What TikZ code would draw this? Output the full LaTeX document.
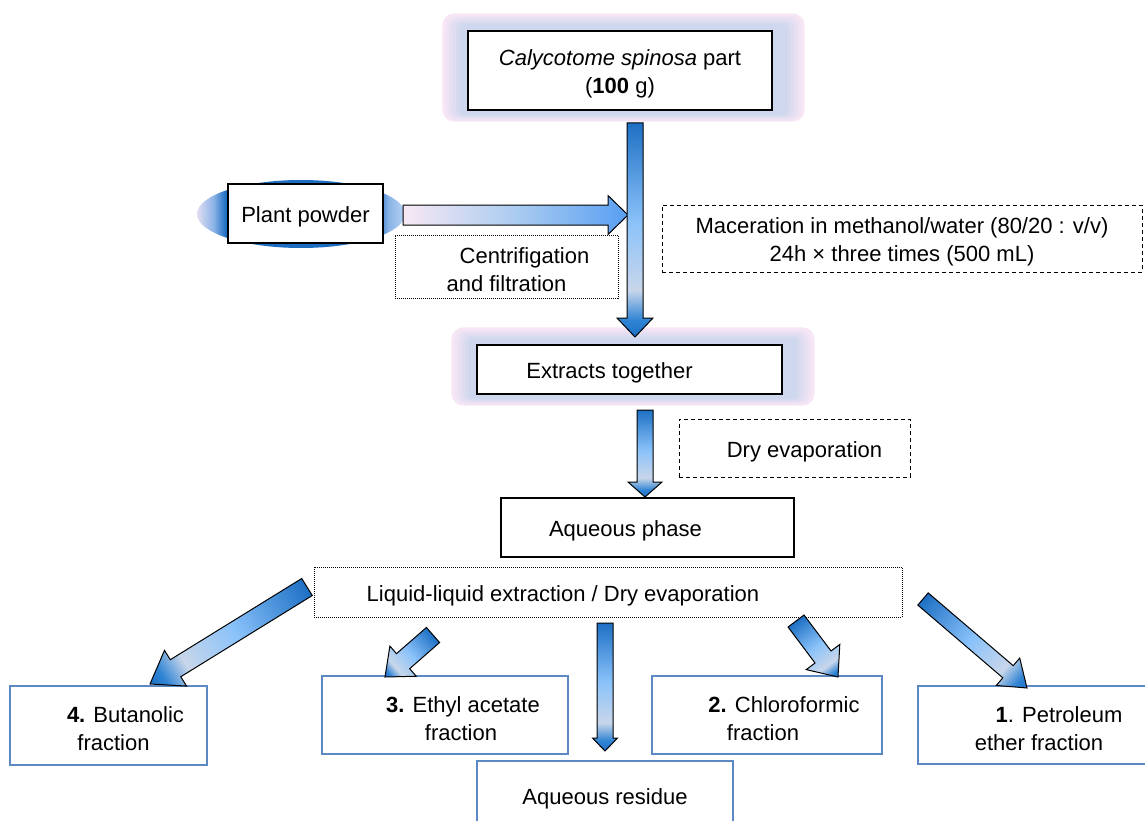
\documentclass[tikz,border=0pt]{standalone}
\usepackage{fontspec}
\setmainfont{Liberation Sans}
\usetikzlibrary{calc,backgrounds}

\definecolor{arrdark}{RGB}{30,112,196}
\definecolor{arrlight}{RGB}{138,194,250}
\definecolor{arrpale}{RGB}{200,214,234}
\definecolor{arrend}{RGB}{48,132,212}
\definecolor{powpink}{RGB}{248,232,244}
\definecolor{powmid}{RGB}{170,204,240}
\definecolor{powblue}{RGB}{88,158,242}
\definecolor{fracblue}{RGB}{92,136,196}
\definecolor{glowpink}{RGB}{247,230,245}
\definecolor{glowblue}{RGB}{206,215,238}
\definecolor{ovlpale}{RGB}{226,222,242}
\definecolor{ovlmid}{RGB}{138,179,230}
\definecolor{ovldark}{RGB}{28,108,194}
\definecolor{ovlright}{RGB}{181,211,243}

\pgfdeclarehorizontalshading{stepshade}{100bp}{color(0bp)=(arrdark); color(25bp)=(arrdark); color(48bp)=(arrlight); color(64bp)=(arrpale); color(71bp)=(arrend); color(75bp)=(arrdark); color(100bp)=(arrdark)}
\pgfdeclarehorizontalshading{powdershade}{100bp}{color(0bp)=(powpink); color(25bp)=(powpink); color(50bp)=(powmid); color(75bp)=(powblue); color(100bp)=(powblue)}
\pgfdeclarehorizontalshading{ovalshade}{100bp}{color(0bp)=(ovlpale); color(25bp)=(ovlpale); color(29bp)=(ovlmid); color(32bp)=(ovldark); color(68bp)=(ovldark); color(71bp)=(ovlmid); color(75bp)=(ovlright); color(100bp)=(ovlright)}

% strut that sets the text a little lower in its box
\newcommand\lift{\rule{0pt}{23pt}}

\tikzset{
  every node/.style={font=\fontsize{22}{28}\selectfont},
  boxtext/.style={inner sep=0pt, align=center},
  blackbox/.style={boxtext, draw=black, line width=1.3pt, fill=white},
  fracbox/.style={boxtext, draw=fracblue, line width=1.1pt, fill=white},
  dashbox/.style={boxtext, draw=black, line width=0.9pt, dash pattern=on 4pt off 3pt},
  dotbox/.style={boxtext, draw=black, line width=0.9pt, dash pattern=on 1pt off 1pt},
  fatarrow/.style={draw=black, line width=1pt, line join=miter},
}

% shaded block arrow: shading, tail, tip, half shaft, half head, head length
\newcommand\blockarrow[6]{%
  \path let \p1=(#2), \p2=(#3) in \pgfextra{%
    \pgfmathsetmacro\arrang{atan2((\y2)-(\y1),(\x2)-(\x1))}%
    \pgfmathsetmacro\arrlen{veclen((\x2)-(\x1),(\y2)-(\y1))}%
    \xdef\arrang{\arrang}\xdef\arrlen{\arrlen}%
    \xdef\arrx{\x1}\xdef\arry{\y1}};
  \shadedraw[fatarrow, shading=#1, transform canvas={shift={(\arrx,\arry)},rotate=\arrang}]
    (0pt,-#4pt) -- ({\arrlen pt-#6pt},-#4pt) -- ({\arrlen pt-#6pt},-#5pt)
    -- (\arrlen pt,0pt) -- ({\arrlen pt-#6pt},#5pt) -- ({\arrlen pt-#6pt},#4pt)
    -- (0pt,#4pt) -- cycle;
}

% soft glow round the main boxes
\newcommand\halo[1]{%
  \foreach \k/\mix in {0/0,1/20,2/40,3/60,4/80,5/100}{
    \fill[glowblue!\mix!glowpink, rounded corners=12pt-1.5pt*\k]
      ($(#1.north west)+(-25+3.5*\k,-17+2.2*\k)$) rectangle ($(#1.south east)+(32-3.5*\k,11-1.4*\k)$);
  }
}

\begin{document}
\begin{tikzpicture}[x=1pt,y=-1pt]
\useasboundingbox (0,0) rectangle (1145,821);

% Boxes
\node[blackbox, minimum width=304, minimum height=79] (calyco) at (620,70.5) {\lift{\itshape Calycotome spinosa} part\\(\textbf{100} g)};
\node[blackbox, minimum width=155, minimum height=59] (powder) at (305.5,213.5) {\lift Plant powder};
\node[dotbox, minimum width=223, minimum height=63] (centri) at (506.5,266.5) {\lift\hspace*{36pt}Centrifigation\\and filtration};
\node[dashbox, minimum width=480, minimum height=67] (macer) at (902,238.5) {\lift Maceration in methanol/water (80/20 : v/v)\\24h × three times (500 mL)};
\node[blackbox, minimum width=305, minimum height=49] (extracts) at (629.5,369.5) {\lift\hspace*{-40pt}Extracts together};
\node[dashbox, minimum width=231, minimum height=58] (dryevap) at (794.5,448) {\lift\hspace*{20pt}Dry evaporation};
\node[blackbox, minimum width=293, minimum height=59] (aqphase) at (647.5,527.5) {\lift\hspace*{-44pt}Aqueous phase};
\node[dotbox, minimum width=588, minimum height=50] (liquid) at (608,592) {\lift\hspace*{-90pt}Liquid-liquid extraction / Dry evaporation};

% Fractions
\node[fracbox, minimum width=197, minimum height=79] (butanol) at (108.5,725.5) {\lift\hspace*{34pt}\textbf{4.} Butanolic\\\hspace*{10pt}fraction};
\node[fracbox, minimum width=246, minimum height=78] (ethyl) at (445,715) {\lift\hspace*{36pt}\textbf{3.} Ethyl acetate\\\hspace*{32pt}fraction};
\node[fracbox, minimum width=230, minimum height=78] (chloro) at (767,715) {\lift\hspace*{34pt}\textbf{2.} Chloroformic\\\hspace*{-8pt}fraction};
\node[fracbox, minimum width=242, minimum height=78] (petrol) at (1039,725) {\lift\hspace*{40pt}\textbf{1}. Petroleum\\ether fraction};
\node[fracbox, minimum width=256, minimum height=69] (residue) at (605,795.5) {\lift Aqueous residue};

% Glow and oval behind
\begin{pgfonlayer}{background}
  \halo{calyco}
  \halo{extracts}
  \shade[shading=ovalshade] ($(powder)+(-4.5,0.5)$) ellipse [x radius=104pt, y radius=34pt];
\end{pgfonlayer}

% Arrow ends
\coordinate (c1) at (635,123);
\coordinate (c2) at (635,337);
\coordinate (p1) at (403,215);
\coordinate (p2) at (628,215);
\coordinate (e1) at (645,410);
\coordinate (e2) at (645,497);
\coordinate (r1) at (605,623);
\coordinate (r2) at (605,751);
\coordinate (b1) at (307,587);
\coordinate (b2) at (150,684);
\coordinate (t1) at (433,635);
\coordinate (t2) at (385,677);
\coordinate (h1) at (796,621);
\coordinate (h2) at (838,677);
\coordinate (l1) at (923,599);
\coordinate (l2) at (1027,688);

% Arrows
\blockarrow{powdershade}{p1}{p2}{10}{19.5}{20}
\blockarrow{stepshade}{c1}{c2}{8}{18}{19}
\blockarrow{stepshade}{e1}{e2}{8}{17}{15}
\blockarrow{stepshade}{r1}{r2}{8}{12.5}{13}
\blockarrow{stepshade}{b1}{b2}{10}{21}{30}
\blockarrow{stepshade}{t1}{t2}{10}{20}{24}
\blockarrow{stepshade}{h1}{h2}{10}{21}{25}
\blockarrow{stepshade}{l1}{l2}{8}{18}{25}
\end{tikzpicture}
\end{document}
